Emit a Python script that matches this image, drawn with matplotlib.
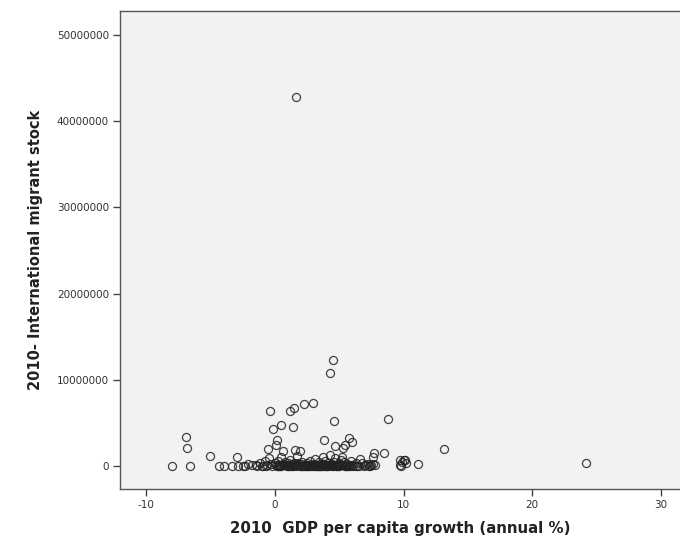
import matplotlib
matplotlib.use("Agg")
import matplotlib.pyplot as plt
import numpy as np

# GDP per capita growth (annual %), 2010
gdp_growth = [
    1.63, 24.2, 13.13, 4.48, 4.27, 8.8, 4.61, 2.98, 2.28, 1.5, 1.17, -0.39,
    0.47, 1.42, -0.13, 3.83, 0.18, 0.08, -0.52, 0.65, 1.55, 1.94,
    -6.94, -6.81, -7.98, -6.6, -5.05, -4.33, -3.96, -3.37, -2.98, -2.85, -2.46, -2.07,
    5.77, 6.0, 5.44, 4.66, 5.31, 8.49, 7.71, 7.64, 6.6, 9.71, 10.1, 9.71, 11.09, 10.0,
    -1.8, -1.5, -1.2, -1.0, -0.8, -0.6, -0.5, -0.3, -0.2, 0.0, 0.1, 0.2, 0.3, 0.4,
    0.5, 0.6, 0.7, 0.8, 0.9, 1.0, 1.1, 1.2, 1.3, 1.4, 1.5, 1.6, 1.7, 1.8, 1.9, 2.0,
    2.1, 2.2, 2.3, 2.4, 2.5, 2.6, 2.7, 2.8, 2.9, 3.0, 3.1, 3.2, 3.3, 3.4, 3.5, 3.6,
    3.7, 3.8, 3.9, 4.0, 4.1, 4.2, 4.3, 4.4, 4.5, 4.6, 4.7, 4.8, 4.9, 5.0, 5.1, 5.2,
    5.3, 5.4, 5.5, 5.6, 5.8, 5.9, 6.1, 6.3, 6.5, 6.8, 7.0, 7.2, 7.4, 7.6, 7.8,
    0.35, 0.85, 1.25, 1.75, 2.15, 2.65, 3.05, 3.45, 3.85, 4.25, 4.75, 5.15, 5.65,
    -1.4, -0.9, 0.55, 1.05, 2.35, 2.85, 3.55, 3.95, 4.35, 4.85, 5.35, 6.2, 6.9, 7.5,
    -2.3, -0.7, 0.25, 1.35, 1.95, 2.55, 3.25, 3.75, 4.15, 4.55, 5.05, 5.45, 6.0, 7.3,
    9.9, 10.2, 9.8, 0.15, 1.65, 3.15, 4.05, 5.55, 2.75, 3.65,
    0.45, 0.95, 1.45, 2.05, 2.45, 2.95, 3.35, 4.45, 4.95, 5.25, 5.75, 6.4, 7.1, 1.15, 3.5, 4.7,
]

# International migrant stock, 2010 (persons)
migrant_stock = [
    42800000, 350000, 1970000, 12300000, 10750000, 5450000, 5260000, 7270000, 7190000, 6690000, 6420000, 6380000,
    4760000, 4520000, 4260000, 2980000, 3020000, 2440000, 1930000, 1780000, 1860000, 1780000,
    3330000, 2120000, 30000, 0, 1200000, 0, 20000, 30000, 1080000, 0, 40000, 230000,
    3210000, 2750000, 2440000, 2320000, 2050000, 1540000, 1540000, 1080000, 810000, 700000, 700000, 100000, 200000, 700000,
    80000, 150000, 400000, 50000, 600000, 120000, 900000, 200000, 20000, 350000, 70000, 550000, 150000, 30000,
    1000000, 250000, 80000, 450000, 120000, 300000, 50000, 700000, 180000, 20000, 400000, 100000, 1200000, 300000, 60000, 220000,
    500000, 40000, 150000, 80000, 350000, 20000, 600000, 120000, 50000, 280000, 800000, 100000, 40000, 450000, 180000, 70000,
    1000000, 250000, 600000, 30000, 350000, 120000, 1300000, 200000, 60000, 500000, 900000, 150000, 40000, 300000, 700000, 1100000,
    100000, 450000, 20000, 250000, 80000, 550000, 150000, 300000, 50000, 400000, 100000, 250000, 30000, 200000, 80000,
    10000, 60000, 20000, 110000, 10000, 90000, 15000, 50000, 5000, 80000, 25000, 60000, 10000,
    20000, 10000, 150000, 20000, 10000, 60000, 30000, 10000, 70000, 20000, 150000, 40000, 10000, 60000,
    10000, 30000, 20000, 10000, 40000, 10000, 5000, 200000, 30000, 20000, 90000, 10000, 30000, 10000,
    500000, 300000, 0, 5000, 10000, 15000, 5000, 10000, 5000, 15000,
    40000, 20000, 90000, 30000, 15000, 110000, 25000, 45000, 10000, 130000, 35000, 20000, 60000, 160000, 5000, 75000,
]

x_ticks = [-10, 0, 10, 20, 30]
y_ticks = [0, 10000000, 20000000, 30000000, 40000000, 50000000]

fig = plt.figure(figsize=(6.8, 5.44), dpi=100)
ax = fig.add_axes([120 / 680, 1 - 489 / 544, 1 - 120 / 680, (489 - 11) / 544])
ax.set_facecolor("#f2f2f2")

ax.plot(gdp_growth, migrant_stock, linestyle="none", marker="o",
        markersize=5.8, markerfacecolor="none", markeredgecolor="#222222",
        markeredgewidth=0.9, alpha=0.85)

ax.set_xlim(-12.05, 31.5)
ax.set_ylim(-2670000, 52800000)
ax.set_xticks(x_ticks)
ax.set_yticks(y_ticks)
ax.set_xticklabels([str(t) for t in x_ticks])
ax.set_yticklabels([str(t) for t in y_ticks])

for side in ["left", "bottom", "top"]:
    ax.spines[side].set_color("#555555")
    ax.spines[side].set_linewidth(1.0)
ax.spines["right"].set_visible(False)

ax.tick_params(axis="both", direction="out", length=5, width=1, color="#444444",
               labelsize=7.5, labelcolor="#333333", pad=3)

ax.set_xlabel("2010  GDP per capita growth (annual %)", fontsize=10.8,
              fontweight="bold", color="#222222", labelpad=8)
ax.set_ylabel("2010- International migrant stock", fontsize=10.5,
              fontweight="bold", color="#222222", labelpad=10)

fig.savefig("out.png", dpi=100, facecolor="white")
